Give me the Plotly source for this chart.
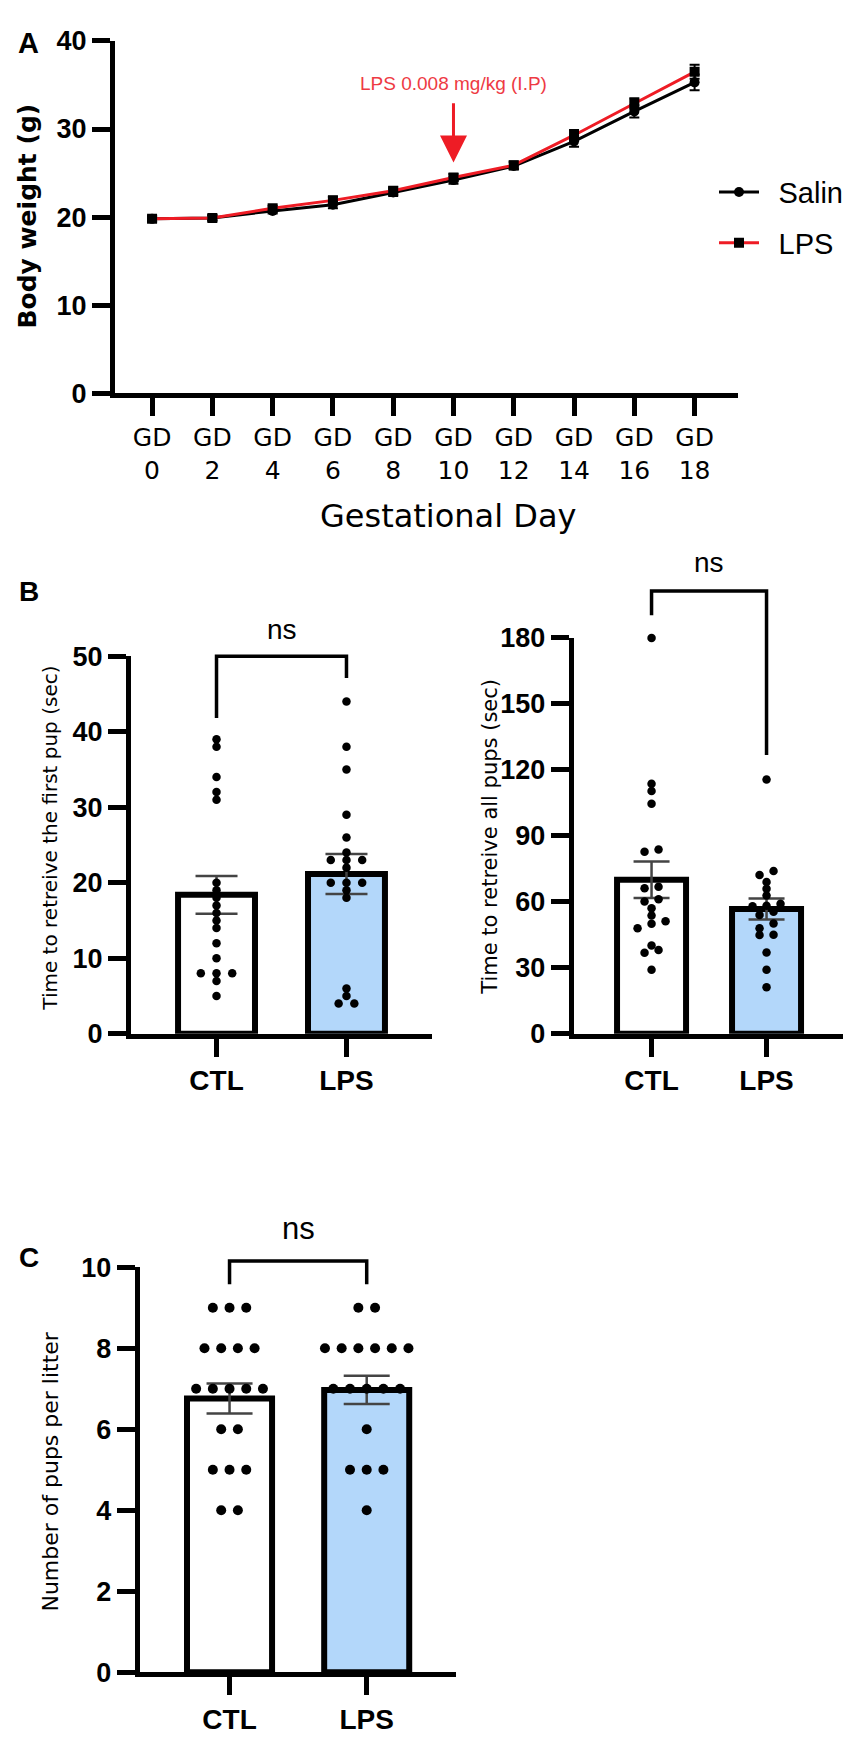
import plotly.graph_objects as go

W, H = 851, 1739
ARIAL = "Liberation Sans, Arial, sans-serif"
DEJAVU = "DejaVu Sans, Verdana, sans-serif"
RED = "#ee1c25"
BLUE = "#b3d7fa"

# ---------------- Panel A data ----------------
GD_DAYS = [0, 2, 4, 6, 8, 10, 12, 14, 16, 18]
GD_LABELS = ["GD<br>%d" % d for d in GD_DAYS]
SALIN_W = [19.8, 19.9, 20.7, 21.4, 22.8, 24.2, 25.8, 28.6, 32.0, 35.3]
SALIN_ERR = [0.3, 0.3, 0.3, 0.4, 0.4, 0.4, 0.4, 0.6, 0.7, 0.9]
LPS_W = [19.8, 19.9, 21.0, 21.9, 23.0, 24.5, 25.9, 29.3, 32.9, 36.5]
LPS_ERR = [0.3, 0.3, 0.3, 0.4, 0.4, 0.4, 0.4, 0.6, 0.6, 0.8]
SERIES_NAMES = ["Salin", "LPS"]
INJECTION_DAY = 10
ARROW_TIP, ARROW_TAIL, NOTE_Y = 26.2, 33.1, 35.2

# ---------------- Panel B data ----------------
GROUPS = ["CTL", "LPS"]
FIRST_CTL = [39, 38, 34, 32, 31, 20, 19, 18, 17, 16, 15, 14, 12, 10, 8, 8, 8, 7, 5]
FIRST_LPS = [44, 38, 35, 29, 26, 24, 23, 23, 23, 22, 20, 20, 20, 19, 18, 6, 5, 4, 4]
FIRST_MEAN = [18.4, 21.15]
FIRST_SEM = [2.5, 2.65]

ALL_CTL = [180, 113.7, 110.4, 104.6, 83.8, 82.8, 66.8, 66.2, 61.2, 60.1, 57.1,
           53.8, 51.2, 50.0, 48.0, 40.1, 38.1, 36.8, 29.1]
ALL_LPS = [115.6, 74.0, 72.2, 69.0, 65.9, 62.9, 59.1, 58.2, 58.0, 55.5, 54.0,
           50.1, 48.0, 45.0, 44.9, 36.9, 29.1, 21.2]
ALL_MEAN = [70.0, 56.7]
ALL_SEM = [8.3, 4.8]

# ---------------- Panel C data ----------------
PUPS_CTL = [9, 9, 9, 8, 8, 8, 8, 7, 7, 7, 7, 7, 6, 6, 5, 5, 5, 4, 4]
PUPS_LPS = [9, 9, 8, 8, 8, 8, 8, 8, 7, 7, 7, 7, 7, 6, 5, 5, 5, 4]
PUPS_MEAN = [6.76, 6.97]
PUPS_SEM = [0.37, 0.35]


def px(x, y):
    return x / W, 1 - y / H


def dom_x(x0, x1):
    return [x0 / W, x1 / W]


def dom_y(ytop, ybot):
    return [1 - ybot / H, 1 - ytop / H]


def to_paper(v, dom, rng):
    return dom[0] + (v - rng[0]) / (rng[1] - rng[0]) * (dom[1] - dom[0])


def swarm(values, bin_size, spacing_px, px_per_unit):
    rows = {}
    for i, v in enumerate(values):
        rows.setdefault(int(v // bin_size), []).append(i)
    offs = [0.0] * len(values)
    for idx in rows.values():
        idx = sorted(idx, key=lambda i: values[i])
        k = len(idx)
        for j, i in enumerate(idx):
            offs[i] = (j - (k - 1) / 2) * spacing_px / px_per_unit
    return offs


fig = go.Figure()

# ---------------- Panel A ----------------
AX_DOM = dom_x(107, 730)
AY_DOM = dom_y(18.3, 376.7)
AX_RNG = [-1.23, 19.44]
AY_RNG = [0, 40]

fig.add_trace(go.Scatter(
    x=GD_DAYS, y=SALIN_W, name="\u2002" + SERIES_NAMES[0], mode="lines+markers",
    line=dict(color="black", width=3),
    marker=dict(symbol="circle", size=10, color="black"),
    error_y=dict(type="data", array=SALIN_ERR, color="black", thickness=2, width=5),
    xaxis="x", yaxis="y", legendgroup="s"))
fig.add_trace(go.Scatter(
    x=GD_DAYS, y=LPS_W, name="\u2002" + SERIES_NAMES[1], mode="lines+markers",
    line=dict(color=RED, width=3),
    marker=dict(symbol="square", size=10, color="black"),
    error_y=dict(type="data", array=LPS_ERR, color="black", thickness=2, width=5),
    xaxis="x", yaxis="y", legendgroup="l"))


def bar_panel(xa, ya, means, sems, ctl, lps, bar_w, err_w, dot_size, bin_size, spacing, ppu):
    fig.add_trace(go.Bar(
        x=[0, 1], y=means, width=bar_w, xaxis=xa, yaxis=ya, showlegend=False,
        marker=dict(color=["white", BLUE], line=dict(color="black", width=6)),
        error_y=dict(type="data", array=sems, color="#444", thickness=2.5, width=err_w)))
    for gi, vals in enumerate([ctl, lps]):
        offs = swarm(vals, bin_size, spacing, ppu)
        fig.add_trace(go.Scatter(
            x=[gi + o for o in offs], y=vals, mode="markers", xaxis=xa, yaxis=ya,
            showlegend=False, marker=dict(color="black", size=dot_size),
            cliponaxis=False))


# B left
B1X_DOM = dom_x(123, 424)
B1Y_DOM = dom_y(644.3, 1028.5)
B1X_RNG = [-0.658, 1.658]
B1Y_RNG = [0, 50]
b1_ppu = (B1X_DOM[1] - B1X_DOM[0]) * W / (B1X_RNG[1] - B1X_RNG[0])
bar_panel("x2", "y2", FIRST_MEAN, FIRST_SEM, FIRST_CTL, FIRST_LPS, 0.592, 21, 8.5, 1, 15.7, b1_ppu)

# B right
B2X_DOM = dom_x(565.7, 838)
B2Y_DOM = dom_y(625.7, 1028.5)
B2X_RNG = [-0.677, 1.691]
B2Y_RNG = [0, 180]
b2_ppu = (B2X_DOM[1] - B2X_DOM[0]) * W / (B2X_RNG[1] - B2X_RNG[0])
bar_panel("x3", "y3", ALL_MEAN, ALL_SEM, ALL_CTL, ALL_LPS, 0.6, 18, 8.5, 4, 14, b2_ppu)

# C
CX_DOM = dom_x(131.7, 448)
CY_DOM = dom_y(1266, 1678.3)
CX_RNG = [-0.655, 1.651]
CY_RNG = [0, 10]
c_ppu = (CX_DOM[1] - CX_DOM[0]) * W / (CX_RNG[1] - CX_RNG[0])
bar_panel("x4", "y4", PUPS_MEAN, PUPS_SEM, PUPS_CTL, PUPS_LPS, 0.62, 23, 10, 1, 16.7, c_ppu)


# ---------------- axes ----------------
def yax(dom, rng, dtick, anchor, size=27):
    return dict(domain=dom, range=rng, dtick=dtick, tick0=0, anchor=anchor,
                showline=True, linecolor="black", linewidth=5, ticks="outside",
                ticklen=18, tickwidth=5, tickcolor="black", showgrid=False, zeroline=False,
                tickfont=dict(family=ARIAL, size=size, color="black", weight="bold"),
                fixedrange=True)


def xax_cat(dom, rng, anchor):
    return dict(domain=dom, range=rng, anchor=anchor, tickvals=[0, 1], ticktext=GROUPS,
                showline=True, linecolor="black", linewidth=5, ticks="outside",
                ticklen=18, tickwidth=5, tickcolor="black", showgrid=False, zeroline=False,
                tickfont=dict(family=ARIAL, size=28, color="black", weight="bold"),
                fixedrange=True)


layout = dict(
    width=W, height=H, autosize=False,
    margin=dict(l=0, r=0, t=0, b=0, pad=0),
    paper_bgcolor="white", plot_bgcolor="white",
    barmode="overlay", showlegend=True,
    legend=dict(x=706 / W, y=1 - 198 / H, xanchor="left", yanchor="middle",
                font=dict(family=ARIAL, size=29, color="black"),
                bgcolor="rgba(0,0,0,0)", tracegroupgap=10, itemwidth=40),
    xaxis=dict(domain=AX_DOM, range=AX_RNG, anchor="y", tickvals=GD_DAYS, ticktext=GD_LABELS,
               showline=True, linecolor="black", linewidth=5, ticks="outside",
               ticklen=18, tickwidth=5, tickcolor="black", showgrid=False, zeroline=False,
               tickfont=dict(family=DEJAVU, size=25, color="black"), fixedrange=True),
    yaxis=yax(AY_DOM, AY_RNG, 10, "x", 27),
    xaxis2=xax_cat(B1X_DOM, B1X_RNG, "y2"),
    yaxis2=yax(B1Y_DOM, B1Y_RNG, 10, "x2"),
    xaxis3=xax_cat(B2X_DOM, B2X_RNG, "y3"),
    yaxis3=yax(B2Y_DOM, B2Y_RNG, 30, "x3"),
    xaxis4=xax_cat(CX_DOM, CX_RNG, "y4"),
    yaxis4=yax(CY_DOM, CY_RNG, 2, "x4"),
)
fig.update_layout(**layout)

annotations = []
shapes = []


def text(xp, yp, s, family, size, bold=False, color="black", angle=0):
    x, y = px(xp, yp)
    annotations.append(dict(x=x, y=y, xref="paper", yref="paper", text=s, showarrow=False,
                            xanchor="center", yanchor="middle", textangle=angle,
                            font=dict(family=family, size=size, color=color,
                                      weight="bold" if bold else "normal")))


# panel letters
text(20, 20, "A", ARIAL, 29, True)
text(21, 578, "B", ARIAL, 28, True)
text(21, 1256, "C", ARIAL, 28, True)

# axis titles
text(20, 197, "Body weight (g)", DEJAVU, 25, True, angle=-90)
text(440, 502, "Gestational Day", DEJAVU, 32)
text(42, 830, "Time to retreive the first pup (sec)", DEJAVU, 20, angle=-90)
text(482, 828, "Time to retreive all pups (sec)", DEJAVU, 21, angle=-90)
text(43, 1474, "Number of pups per litter", DEJAVU, 22, angle=-90)

# injection arrow + label (panel A)
annotations.append(dict(x=INJECTION_DAY, y=ARROW_TIP, ax=INJECTION_DAY, ay=ARROW_TAIL,
                        xref="x", yref="y", axref="x", ayref="y", text="",
                        showarrow=True, arrowhead=2, arrowsize=1.8, arrowwidth=3,
                        arrowcolor=RED))
annotations.append(dict(x=INJECTION_DAY, y=NOTE_Y, xref="x", yref="y",
                        text="LPS 0.008 mg/kg (I.P)", showarrow=False,
                        xanchor="center", yanchor="middle",
                        font=dict(family=ARIAL, size=19, color="#ee3a43")))


# significance brackets
def bracket(xdom, xrng, ydom, yrng, top, left_end, right_end, ns_y, ns_size):
    x0 = to_paper(0, xdom, xrng)
    x1 = to_paper(1, xdom, xrng)
    yt = to_paper(top, ydom, yrng)
    yl = to_paper(left_end, ydom, yrng)
    yr = to_paper(right_end, ydom, yrng)
    shapes.append(dict(type="path", xref="paper", yref="paper",
                       path=f"M {x0},{yl} L {x0},{yt} L {x1},{yt} L {x1},{yr}",
                       line=dict(color="black", width=3.5)))
    annotations.append(dict(x=(x0 + x1) / 2, y=to_paper(ns_y, ydom, yrng),
                            xref="paper", yref="paper", text="ns", showarrow=False,
                            xanchor="center", yanchor="middle",
                            font=dict(family=ARIAL, size=ns_size, color="black")))


bracket(B1X_DOM, B1X_RNG, B1Y_DOM, B1Y_RNG, 50, 41.8, 47.1, 53.5, 28)
bracket(B2X_DOM, B2X_RNG, B2Y_DOM, B2Y_RNG, 201.3, 190.3, 126.7, 214.2, 28)
bracket(CX_DOM, CX_RNG, CY_DOM, CY_RNG, 10.15, 9.58, 9.58, 10.95, 31)

fig.update_layout(annotations=annotations, shapes=shapes)
fig.write_html("out.html")
